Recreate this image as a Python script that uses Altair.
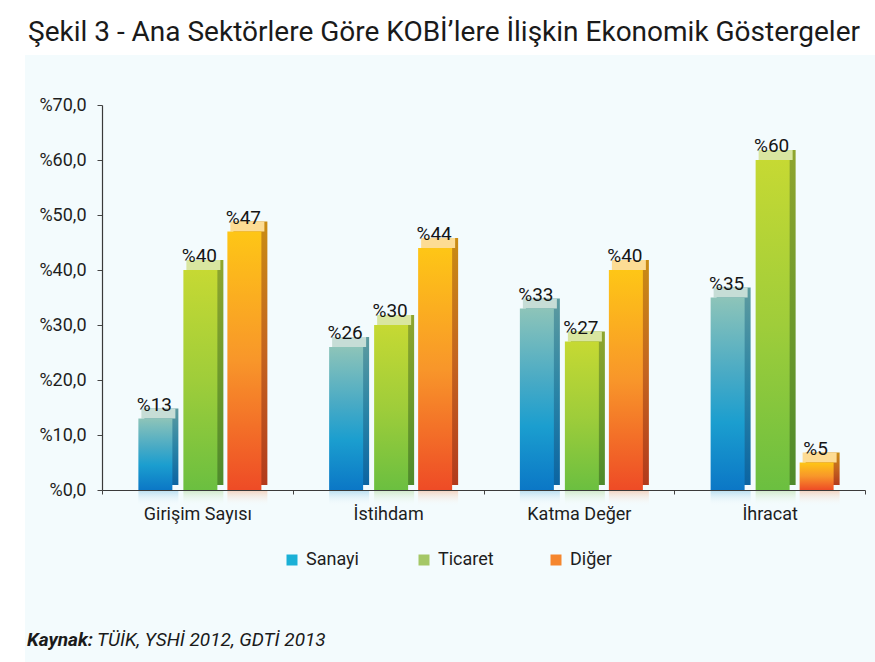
import altair as alt
import pandas as pd

groups = ["Girişim Sayısı", "İstihdam", "Katma Değer", "İhracat"]
series = ["Sanayi", "Ticaret", "Diğer"]
sanayi = [13, 26, 33, 35]
ticaret = [40, 30, 27, 60]
diger = [47, 44, 40, 5]
y_ticks = [0, 10, 20, 30, 40, 50, 60, 70]
legend_colors = ["#1ab0d6", "#a4c766", "#f5862e"]
title_text = "Şekil 3 - Ana Sektörlere Göre KOBİ’lere İlişkin Ekonomik Göstergeler"
source_bold = ["Kaynak:"]
source_rest = ["TÜİK, YSHİ 2012, GDTİ 2013"]

series_values = {"Sanayi": sanayi, "Ticaret": ticaret, "Diğer": diger}
rows = []
for s in series:
    for g, v in zip(groups, series_values[s]):
        rows.append({"group": g, "series": s, "value": v, "label": f"%{v}"})
df = pd.DataFrame(rows)

W, H = 763, 385
FONT = "Roboto"
BAR_W = 34


def grad(stops):
    return alt.Gradient(
        gradient="linear",
        stops=[alt.GradientStop(color=c, offset=o) for c, o in stops],
        x1=0, x2=0, y1=0, y2=1,
    )


style = {
    "Sanayi": dict(
        off=-42,
        front=[("#8dc4b9", 0), ("#48aac5", 0.4), ("#1b9ecf", 0.65), ("#0b77c6", 1)],
        side=[("#5e9b9f", 0), ("#2a84a6", 0.5), ("#0b64a2", 1)],
        top="#c6ddd6",
        refl="rgba(40,150,210,0.30)",
    ),
    "Ticaret": dict(
        off=3,
        front=[("#c6d933", 0), ("#9fcd3a", 0.5), ("#6bbf40", 1)],
        side=[("#8fa52e", 0), ("#6e9a2c", 0.5), ("#4e8a2c", 1)],
        top="#d9e6a0",
        refl="rgba(120,190,70,0.30)",
    ),
    "Diğer": dict(
        off=47,
        front=[("#fec616", 0), ("#f8962a", 0.5), ("#ee4b26", 1)],
        side=[("#c98c14", 0), ("#c4641f", 0.5), ("#b23a1c", 1)],
        top="#fddc94",
        refl="rgba(240,110,40,0.30)",
    ),
}

x_enc = alt.X(
    "group:N",
    sort=groups,
    scale=alt.Scale(domain=groups, paddingInner=0, paddingOuter=0),
    axis=alt.Axis(
        title=None,
        labelAngle=0,
        labelFont=FONT,
        labelFontSize=18,
        labelColor="#1e1e1e",
        labelPadding=11,
        tickBand="extent",
        tickSize=4,
        tickColor="#444444",
        domainColor="#3a3a3a",
        domainWidth=1.2,
        grid=False,
        zindex=1,
    ),
)
y_enc = alt.Y(
    "value:Q",
    scale=alt.Scale(domain=[0, 70], nice=False, zero=True),
    axis=alt.Axis(
        title=None,
        values=y_ticks,
        labelExpr="'%' + replace(format(datum.value, '.1f'), '.', ',')",
        labelFont=FONT,
        labelFontSize=18,
        labelColor="#1e1e1e",
        labelPadding=11,
        tickSize=5,
        tickColor="#444444",
        domainColor="#3a3a3a",
        domainWidth=1.2,
        grid=False,
        zindex=1,
    ),
)

panel = alt.Chart(pd.DataFrame({"a": [0]})).mark_rect(color="#f3fbfd").encode(
    x=alt.value(-77), x2=alt.value(773), y=alt.value(-50), y2=alt.value(557)
)

layers = [panel]
for s in series:
    st = style[s]
    base = alt.Chart(df).transform_filter(alt.datum.series == s)
    refl = base.mark_bar(
        width=BAR_W + 6, xOffset=st["off"] + 3, y2Offset=16,
        color=alt.Gradient(
            gradient="linear",
            stops=[alt.GradientStop(color=st["refl"], offset=0),
                   alt.GradientStop(color="rgba(255,255,255,0)", offset=1)],
            x1=0, x2=0, y1=0, y2=1,
        ),
    ).encode(x=x_enc, y=alt.datum(0), y2=alt.datum(0))
    side = base.mark_bar(
        width=BAR_W, xOffset=st["off"] + 6, yOffset=-10, y2Offset=-5,
        color=grad(st["side"]),
    ).encode(x=x_enc, y=y_enc, y2=alt.datum(0))
    top = base.mark_bar(
        width=BAR_W, xOffset=st["off"] + 3, yOffset=-10, color=st["top"],
    ).encode(x=x_enc, y=y_enc, y2="value:Q")
    front = base.mark_bar(
        width=BAR_W, xOffset=st["off"], color=grad(st["front"]),
    ).encode(x=x_enc, y=y_enc, y2=alt.datum(0))
    text = base.mark_text(
        xOffset=st["off"] - 1, dy=-8, baseline="alphabetic", align="center",
        font=FONT, fontSize=19, color="#151515",
    ).encode(x=x_enc, y=y_enc, text="label:N")
    layers += [refl, side, top, front, text]

legend_layer = alt.Chart(df).mark_square(opacity=0).encode(
    x=x_enc,
    y=y_enc,
    color=alt.Color(
        "series:N",
        sort=series,
        scale=alt.Scale(domain=series, range=legend_colors),
        legend=alt.Legend(
            title=None,
            orient="none",
            legendX=181,
            legendY=446,
            direction="horizontal",
            columns=3,
            gridAlign="all",
            columnPadding=53,
            symbolType="square",
            symbolSize=121,
            symbolOpacity=1,
            symbolStrokeWidth=0,
            labelFont=FONT,
            labelFontSize=18,
            labelColor="#1e1e1e",
            labelOffset=5,
            padding=0,
        ),
    ),
)
layers.append(legend_layer)

src1 = alt.Chart(pd.DataFrame({"t": source_bold})).mark_text(
    align="left", baseline="alphabetic", font=FONT, fontSize=19,
    fontStyle="italic", fontWeight="bold", color="#1a1a1a",
).encode(x=alt.value(-75), y=alt.value(541), text="t:N")
src2 = alt.Chart(pd.DataFrame({"t": source_rest})).mark_text(
    align="left", baseline="alphabetic", font=FONT, fontSize=19,
    fontStyle="italic", color="#1a1a1a",
).encode(x=alt.value(-5), y=alt.value(541), text="t:N")
layers += [src1, src2]

chart = alt.layer(*layers).properties(
    width=W,
    height=H,
    autosize=alt.AutoSizeParams(type="none"),
    padding={"left": 102, "top": 105, "right": 10, "bottom": 172},
    title=alt.TitleParams(
        text=title_text,
        anchor="start",
        frame="group",
        dx=-74,
        offset=8,
        font=FONT,
        fontSize=28,
        fontWeight="normal",
        color="#1a1a1a",
    ),
).configure_view(stroke=None).configure(background="white")

chart.save("out.html", embed_options={"renderer": "svg", "actions": False})
